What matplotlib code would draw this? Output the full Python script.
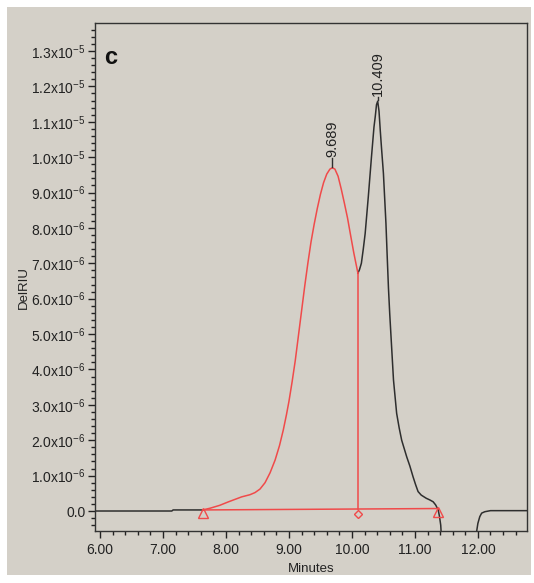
import matplotlib
matplotlib.use("Agg")
import matplotlib.pyplot as plt
from matplotlib.ticker import MultipleLocator, FuncFormatter
from matplotlib.patches import Rectangle

plt.rcParams['font.family'] = ['Liberation Sans', 'DejaVu Sans']
plt.rcParams['mathtext.fontset'] = 'custom'
plt.rcParams['mathtext.rm'] = 'Liberation Sans'
plt.rcParams['mathtext.default'] = 'regular'

# ---- data (signal in units of 1e-6 DelRIU) ----
base_x = [5.92, 7.14, 7.16, 7.63]
base_y = [0.0, 0.0, 0.03, 0.03]

red_x = [7.63, 7.75, 7.90, 8.04, 8.25, 8.38, 8.46, 8.54, 8.62, 8.70, 8.78, 8.85,
         8.91, 8.96, 9.00, 9.05, 9.10, 9.15, 9.20, 9.25, 9.30, 9.35, 9.40, 9.45,
         9.50, 9.55, 9.60, 9.65, 9.689, 9.73, 9.78, 9.83, 9.88, 9.93, 9.98,
         10.03, 10.095]
red_y = [0.03, 0.08, 0.16, 0.26, 0.40, 0.46, 0.52, 0.62, 0.80, 1.08, 1.44, 1.85,
         2.29, 2.72, 3.10, 3.65, 4.25, 4.95, 5.65, 6.35, 7.00, 7.60, 8.10, 8.55,
         8.95, 9.28, 9.52, 9.66, 9.70, 9.66, 9.46, 9.10, 8.70, 8.28, 7.78,
         7.29, 6.72]

black_x = [10.095, 10.12, 10.15, 10.18, 10.21, 10.26, 10.31, 10.35, 10.37, 10.39,
           10.409, 10.43, 10.45, 10.47, 10.50, 10.54, 10.56, 10.58, 10.60, 10.63,
           10.66, 10.71, 10.75, 10.79, 10.87, 10.92, 10.97, 11.01, 11.05, 11.10,
           11.18, 11.24, 11.29, 11.33, 11.37, 11.39, 11.41, 11.42, 11.43]
black_y = [6.72, 6.82, 7.00, 7.40, 7.84, 8.88, 10.00, 10.85, 11.14, 11.48,
           11.58, 11.30, 10.75, 10.25, 9.54, 8.13, 7.20, 6.30, 5.58, 4.64,
           3.70, 2.76, 2.35, 2.00, 1.53, 1.27, 0.97, 0.75, 0.55, 0.45,
           0.36, 0.31, 0.26, 0.17, 0.03, -0.15, -0.40, -0.70, -1.20]

tail_x = [11.97, 11.98, 12.00, 12.03, 12.06, 12.11, 12.20, 12.78]
tail_y = [-1.20, -0.58, -0.35, -0.16, -0.06, -0.02, 0.01, 0.01]

# integration baseline / markers
start_x, start_y = 7.63, 0.03
end_x, end_y = 11.37, 0.07
drop_x, drop_top = 10.095, 6.72

peaks_x = [9.689, 10.409]
peaks_y = [9.70, 11.58]
peak_labels = ["9.689", "10.409"]

x_ticks = [6.0, 7.0, 8.0, 9.0, 10.0, 11.0, 12.0]
y_ticks = list(range(0, 14))

RED = '#f04a4a'
BLK = '#2e2e2e'
BG = '#d4d0c8'

fig = plt.figure(figsize=(5.34, 5.83), dpi=100, facecolor='white')
fig.patches.append(Rectangle((7 / 534, 8 / 583), 524 / 534, 568 / 583,
                             transform=fig.transFigure, facecolor=BG,
                             edgecolor='none', zorder=-10))
ax = fig.add_axes([95 / 534, 1 - 531 / 583, 432 / 534, 508 / 583])
ax.set_facecolor(BG)

ax.plot(base_x, base_y, color=BLK, lw=1.1)
ax.plot(black_x, black_y, color=BLK, lw=1.1)
ax.plot(tail_x, tail_y, color=BLK, lw=1.1)
ax.plot(red_x, red_y, color=RED, lw=1.1)

# baseline and drop line
ax.plot([start_x, end_x], [start_y, end_y], color=RED, lw=1.1)
ax.plot([drop_x, drop_x], [start_y + (end_y - start_y) * (drop_x - start_x) / (end_x - start_x), drop_top],
        color=RED, lw=1.1)
ax.plot([start_x, end_x], [-0.05, -0.03], linestyle='none', marker='^', ms=7,
        mfc='none', mec=RED, mew=1.0)
ax.plot([drop_x], [-0.08], linestyle='none', marker='D', ms=4.5,
        mfc='none', mec=RED, mew=1.0)

label_gap = [0.28, 0.12]
for px, py, lab, g in zip(peaks_x, peaks_y, peak_labels, label_gap):
    ax.plot([px, px], [py + 0.03, py + g], color=BLK, lw=1.0)
    ax.text(px, py + g + 0.02, lab, rotation=90, ha='center', va='bottom',
            fontsize=10.5, color='#222222')

ax.text(0.022, 0.955, 'c', transform=ax.transAxes, fontsize=17,
        fontweight='bold', ha='left', va='top', color='#111111')

ax.set_xlim(5.92, 12.78)
ax.set_ylim(-0.565, 13.79)

ax.set_xticks(x_ticks)
ax.xaxis.set_minor_locator(MultipleLocator(0.2))
ax.set_xticklabels([f"{v:.2f}" for v in x_ticks])
ax.set_yticks(y_ticks)
ax.yaxis.set_minor_locator(MultipleLocator(0.2))


def yfmt(v, pos):
    if abs(v) < 1e-9:
        return "0.0"
    if v >= 10:
        return f"{v / 10:.1f}x10$^{{-5}}$"
    return f"{v:.1f}x10$^{{-6}}$"


ax.yaxis.set_major_formatter(FuncFormatter(yfmt))

ax.tick_params(axis='both', which='major', length=5, width=1, labelsize=10,
               colors='#222222', pad=2)
ax.tick_params(axis='both', which='minor', length=3, width=1, colors='#222222')
ax.tick_params(axis='x', which='major', pad=4)
for s in ax.spines.values():
    s.set_color('#333333')
    s.set_linewidth(1.0)

ax.set_xlabel('Minutes', fontsize=9.5, color='#222222', labelpad=4)
ax.set_ylabel('DelRIU', fontsize=9.5, color='#222222')
ax.yaxis.set_label_coords(-0.15, 0.48)

fig.savefig('out.png', dpi=100, facecolor='white')
